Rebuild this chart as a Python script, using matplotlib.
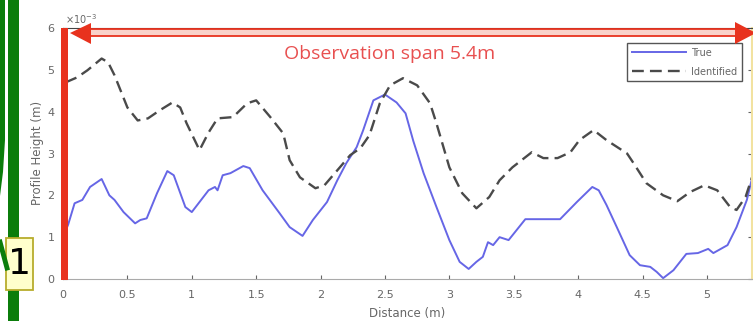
import matplotlib.pyplot as plt
from matplotlib.patches import Rectangle, Polygon
from matplotlib.lines import Line2D

# profile data (heights in units of 1e-3 m)
dist_true = [0.02, 0.04, 0.09, 0.15, 0.21, 0.30, 0.36, 0.40, 0.47, 0.56, 0.60, 0.65,
             0.73, 0.81, 0.86, 0.95, 1.00, 1.06, 1.13, 1.18, 1.20, 1.24, 1.30, 1.40,
             1.45, 1.55, 1.68, 1.76, 1.86, 1.94, 2.05, 2.13, 2.20, 2.28, 2.33, 2.41,
             2.50, 2.59, 2.66, 2.72, 2.80, 2.90, 3.00, 3.08, 3.15, 3.21, 3.26, 3.30,
             3.34, 3.39, 3.46, 3.59, 3.86, 3.99, 4.11, 4.16, 4.22, 4.30, 4.40, 4.48,
             4.56, 4.61, 4.66, 4.74, 4.84, 4.93, 5.01, 5.05, 5.16, 5.23, 5.31, 5.36]
height_true = [1.15, 1.3, 1.81, 1.89, 2.2, 2.39, 2.0, 1.89, 1.6, 1.33, 1.41, 1.45,
               2.05, 2.58, 2.48, 1.72, 1.6, 1.84, 2.12, 2.2, 2.12, 2.48, 2.53, 2.7,
               2.65, 2.12, 1.58, 1.24, 1.03, 1.41, 1.84, 2.36, 2.77, 3.15, 3.55, 4.27,
               4.41, 4.22, 3.96, 3.3, 2.53, 1.72, 0.93, 0.41, 0.24, 0.41, 0.53, 0.88,
               0.81, 1.0, 0.93, 1.43, 1.43, 1.84, 2.2, 2.12, 1.77, 1.24, 0.57, 0.33,
               0.29, 0.17, 0.02, 0.21, 0.6, 0.62, 0.72, 0.62, 0.81, 1.24, 1.89, 2.53]

dist_ident = [0.02, 0.11, 0.19, 0.30, 0.35, 0.40, 0.50, 0.58, 0.66, 0.75, 0.85, 0.91,
              0.96, 1.06, 1.13, 1.20, 1.32, 1.43, 1.50, 1.61, 1.71, 1.76, 1.84, 1.96,
              2.03, 2.15, 2.23, 2.31, 2.38, 2.46, 2.54, 2.64, 2.75, 2.85, 2.90, 3.00,
              3.10, 3.21, 3.31, 3.39, 3.49, 3.64, 3.73, 3.84, 3.94, 4.01, 4.12, 4.22,
              4.38, 4.43, 4.53, 4.66, 4.77, 4.87, 4.98, 5.08, 5.18, 5.23, 5.30, 5.35]
height_ident = [4.7, 4.82, 4.99, 5.27, 5.18, 4.87, 4.1, 3.79, 3.84, 4.03, 4.22, 4.1,
                3.72, 3.08, 3.5, 3.84, 3.87, 4.2, 4.27, 3.87, 3.48, 2.84, 2.43, 2.17,
                2.24, 2.67, 2.96, 3.13, 3.44, 4.2, 4.63, 4.8, 4.63, 4.2, 3.72, 2.67,
                2.05, 1.69, 1.96, 2.36, 2.67, 3.03, 2.89, 2.89, 3.03, 3.32, 3.56, 3.32,
                3.0, 2.77, 2.29, 2.0, 1.86, 2.08, 2.24, 2.12, 1.72, 1.65, 1.96, 2.43]

x_ticks = [0, 0.5, 1, 1.5, 2, 2.5, 3, 3.5, 4, 4.5, 5]
x_tick_labels = ['0', '0.5', '1', '1.5', '2', '2.5', '3', '3.5', '4', '4.5', '5']
y_ticks = [0, 1, 2, 3, 4, 5, 6]

W, H = 753, 321


def fx(px):
    return px / W


def fy(py):
    return 1 - py / H


fig = plt.figure(figsize=(7.53, 3.21), dpi=100)
ax = fig.add_axes([fx(63), fy(279), (752 - 63) / W, (279 - 28) / H])

ax.plot(dist_true, height_true, color='#6666e6', lw=1.4, label='True')
ax.plot(dist_ident, height_ident, color='#4a4a4a', lw=1.7, dashes=(5, 2.6),
        label='Identified')

ax.set_xlim(0, 5.35)
ax.set_ylim(0, 6)
ax.set_xticks(x_ticks)
ax.set_xticklabels(x_tick_labels)
ax.set_yticks(y_ticks)
ax.tick_params(direction='in', top=True, right=True, length=3, width=0.8,
               color='#666666', labelsize=8, labelcolor='#666666')
ax.tick_params(axis='x', pad=8)
ax.tick_params(axis='y', pad=6)
ax.spines['top'].set_color('#444444')
ax.spines['bottom'].set_color('#aaaaaa')
ax.spines['right'].set_color('#f2e2a0')
ax.spines['right'].set_linewidth(1.5)

leg = ax.legend(loc='upper right', bbox_to_anchor=(fx(742), fy(43)),
                bbox_transform=fig.transFigure, fontsize=7, fancybox=False,
                edgecolor='#555555', framealpha=1, handlelength=5.6,
                handletextpad=0.5, labelspacing=0.9, borderpad=0.5,
                borderaxespad=0)
leg.get_frame().set_linewidth(1.0)
for t in leg.get_texts():
    t.set_color('#666666')

# axis labels and exponent
fig.text(fx(37), fy(153), 'Profile Height (m)', rotation=90, fontsize=8.5,
         color='#666666', ha='center', va='center')
fig.text(fx(407), fy(313), 'Distance (m)', fontsize=8.5, color='#666666',
         ha='center', va='center')
fig.text(fx(65), fy(19), r'$\times10^{-3}$', fontsize=7, color='#666666',
         ha='left', va='center')

# red frame and span arrow
red = '#e8321e'
fig.add_artist(Rectangle((fx(61), fy(280)), 7 / W, 252 / H, facecolor=red,
                         edgecolor='none', transform=fig.transFigure))
fig.add_artist(Rectangle((fx(86), fy(36)), (738 - 86) / W, 7 / H,
                         facecolor='#f9d2ca', edgecolor=red, lw=1.3,
                         transform=fig.transFigure))
fig.add_artist(Polygon([(fx(70), fy(33)), (fx(91), fy(23)), (fx(91), fy(44))],
                       closed=True, facecolor=red, edgecolor='none',
                       transform=fig.transFigure))
fig.add_artist(Polygon([(fx(756), fy(33)), (fx(735), fy(22)), (fx(735), fy(44))],
                       closed=True, facecolor=red, edgecolor='none',
                       transform=fig.transFigure))
fig.text(fx(390), fy(54), 'Observation span 5.4m', fontsize=14, color='#e85050',
         family='Open Sans', ha='center', va='center')

# green bars on the left edge
green = '#0b7d0b'
fig.add_artist(Rectangle((fx(8), 0), 11 / W, 1, facecolor=green,
                         edgecolor='none', transform=fig.transFigure))
fig.add_artist(Polygon([(0, 1), (fx(5), 1), (fx(5), fy(140)), (fx(3), fy(172)),
                        (0, fy(196))], closed=True, facecolor=green,
                       edgecolor='none', transform=fig.transFigure))
fig.add_artist(Line2D([0, fx(7)], [fy(242), fy(268)], color=green, lw=3.5,
                      transform=fig.transFigure))

# numbered callout box
fig.add_artist(Rectangle((fx(6), fy(290)), 27 / W, 52 / H, facecolor='#ffffcc',
                         edgecolor='#b8ac2c', lw=1.3, transform=fig.transFigure))
fig.text(fx(19.5), fy(264), '1', fontsize=26, color='black', ha='center',
         va='center')

fig.savefig('out.png', dpi=100)
